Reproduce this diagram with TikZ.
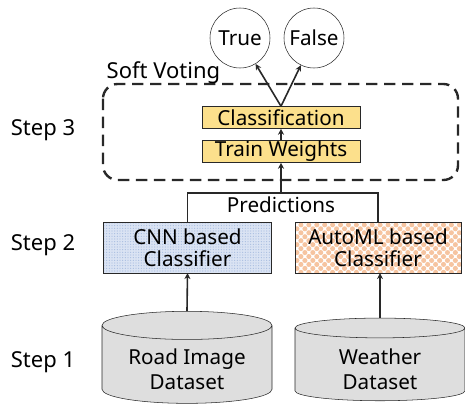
\documentclass[tikz,border=0pt]{standalone}
\usepackage{fontspec}
\setmainfont{Noto Sans}
\usetikzlibrary{positioning,arrows.meta,shapes.geometric,patterns.meta}
\definecolor{stageyellow}{RGB}{252,224,140}
\definecolor{cnnblue}{RGB}{218,227,243}
\definecolor{cnndot}{RGB}{170,190,225}
\definecolor{peach}{RGB}{246,196,160}
\definecolor{dbgray}{RGB}{222,222,222}
\definecolor{edge}{RGB}{40,40,40}
\tikzset{
  stage/.style={draw=edge,fill=stageyellow,minimum width=118.5pt,minimum height=16.5pt,inner sep=0pt},
  clfbox/.style={draw=edge,align=center,minimum width=126pt,minimum height=38pt,inner sep=0pt},
  outcome/.style={draw=edge,circle,minimum size=45pt,inner sep=0pt},
  dbase/.style={draw=edge,fill=dbgray,cylinder,shape border rotate=90,aspect=0.24,
     minimum width=127.5pt,minimum height=62pt,align=center,inner sep=0pt,
     font=\fontsize{15.5}{18.5}\selectfont},
  steplbl/.style={font=\fontsize{16.5}{18}\selectfont},
  flow/.style={-{Stealth[length=4.5pt,width=4.5pt]},line width=1.2pt,draw=edge},
}
\begin{document}
\begin{tikzpicture}[x=0.75pt,y=-0.75pt,font=\fontsize{15.5}{16.5}\selectfont]
  \useasboundingbox (0,0) rectangle (465,407);
  % outputs
  \node[outcome] (true) at (240,38) {True};
  \node[outcome] (false) at (314,38) {False};
  % soft voting block
  \draw[edge,line width=1.8pt,dash pattern=on 8.5pt off 5pt,rounded corners=11pt]
    (103,84) rectangle (458,180);
  \node[steplbl,anchor=west] (sv) at (102,73) {Soft Voting};
  \node[stage] (clf) at (281,117.5) {Classification};
  \node[stage] (tw) at (281,151.5) {Train Weights};
  % base classifiers
  \node[clfbox,preaction={fill=cnnblue},pattern={Dots[radius=0.45pt,distance=2pt]},pattern color=cnndot]
    (cnn) at (187.5,247.5) {CNN based\\Classifier};
  \node[clfbox,minimum width=124.5pt,preaction={fill=white},pattern={Dots[radius=1.9pt,distance=4.2pt,angle=45]},pattern color=peach]
    (aml) at (378,247.5) {AutoML based\\Classifier};
  % datasets
  \node[dbase] (road) at (187,364.5) {\\Road Image\\Dataset};
  \node[dbase] (wthr) at (380,364.5) {\\Weather\\Dataset};
  % step labels
  \node[steplbl] (s3) at (43,130) {Step 3};
  \node[steplbl] (s2) at (43,245) {Step 2};
  \node[steplbl] (s1) at (43,362) {Step 1};
  % connectors
  \coordinate (pred) at (281,193);
  \draw[edge,line width=1.1pt] (cnn.north) |- (pred) -| (aml.north);
  \node (predlbl) at (281,205) {Predictions};
  \draw[flow] (road.north) -- (cnn.south);
  \draw[flow] (wthr.north) -- (cnn.south -| wthr.north);
  \draw[flow] (pred) -- (tw.south);
  \draw[flow] (tw.north) -- (clf.south);
  \draw[flow] (clf.north) -- (true);
  \draw[flow] (clf.north) -- (false);
\end{tikzpicture}
\end{document}
